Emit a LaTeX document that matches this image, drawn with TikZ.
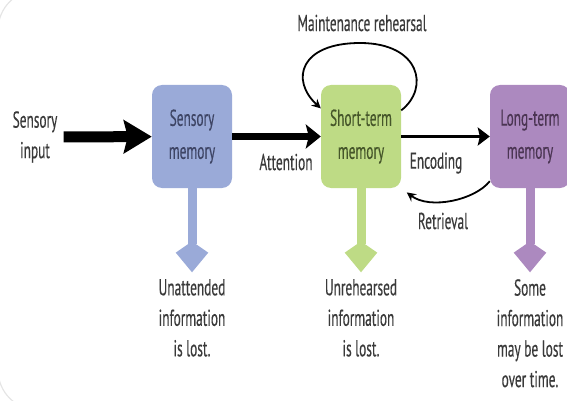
\documentclass[tikz,border=0pt]{standalone}
\usepackage{fontspec}
\setmainfont{PT Sans}[FakeStretch=0.58, FakeBold=0.3]
\usetikzlibrary{arrows.meta}
\definecolor{smemblue}{HTML}{9AAAD8}
\definecolor{stmgreen}{HTML}{BEDB85}
\definecolor{ltmpurple}{HTML}{AC89BF}
\definecolor{smemtext}{HTML}{3E4565}
\definecolor{stmtext}{HTML}{46562A}
\definecolor{ltmtext}{HTML}{4B3553}
\definecolor{txtgray}{HTML}{3A3A3A}

\begin{document}
\begin{tikzpicture}[x=1pt, y=-1pt,
    store/.style={rectangle, rounded corners=10pt, minimum width=80pt, minimum height=103pt,
      inner sep=0pt, align=center, font=\fontsize{23}{33}\selectfont},
    lbl/.style={align=center, text=txtgray, font=\fontsize{23}{30.5}\selectfont, inner sep=0pt},
    lost/.style={lbl, anchor=north},
    lossarrow/.style={line width=9pt, shorten >=6pt, -{Stealth[length=20pt, width=28pt, inset=-12pt]}},
    loop/.style={line width=1.8pt, -{Stealth[length=9pt, width=9pt]}}]
  \useasboundingbox (0,0) rectangle (567,401);
  % card border
  \draw[black!10, line width=1.2pt, rounded corners=40pt] (-2,-10) rectangle (620,410);

  % Nodes
  \node[lbl] (in) at (35,137) {Sensory\\input};
  \node[store, fill=smemblue, text=smemtext] (smem) at (192,136.5) {Sensory\\memory};
  \node[store, fill=stmgreen, text=stmtext] (stm) at (361,136.5) {Short-term\\memory};
  \node[store, fill=ltmpurple, text=ltmtext] (ltm) at (530,136.5) {Long-term\\memory};

  \node[lbl] (maint) at (362,23) {Maintenance rehearsal};
  \node[lbl] (attn) at (286,162) {Attention};
  \node[lbl] (enc) at (436,163) {Encoding};
  \node[lbl] (retr) at (443,221) {Retrieval};

  \node[lost] (lost1) at (192,279) {Unattended\\information\\is lost.};
  \node[lost] (lost2) at (361,279) {Unrehearsed\\information\\is lost.};
  \node[lost] (lost3) at (530,279) {Some\\information\\may be lost\\over time.};

  % Edges
  \draw[line width=11pt, shorten <=6pt, -{Stealth[length=28pt, width=33pt, inset=4pt]}] (in) -- (smem);
  \draw[line width=6.5pt, -{Stealth[length=15pt, width=24pt, inset=3pt]}] (smem) -- (stm);
  \draw[line width=3pt, -{Stealth[length=12pt, width=18pt, inset=2pt]}] (stm) -- (ltm);
  \draw[loop] (stm.33) .. controls (430,88) and (420,43) .. (360,43)
    .. controls (300,43) and (290,80) .. (stm.145);
  \draw[loop, shorten >=7pt] (ltm.228) .. controls (475,200) and (430,210) .. (stm.south east);

  \draw[lossarrow, smemblue] (smem) -- (lost1);
  \draw[lossarrow, stmgreen] (stm) -- (lost2);
  \draw[lossarrow, ltmpurple] (ltm) -- (lost3);
\end{tikzpicture}
\end{document}
